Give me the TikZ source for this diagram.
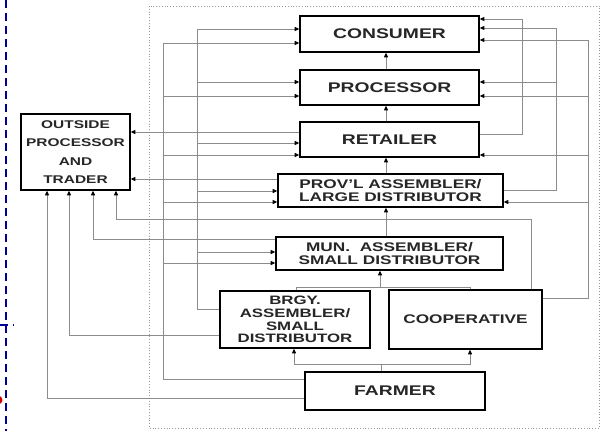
\documentclass[tikz,border=0pt]{standalone}
\usepackage{fontspec}
\setmainfont{Liberation Sans}[FakeStretch=1.38]
\usetikzlibrary{arrows.meta}
\begin{document}
\begin{tikzpicture}[x=1pt,y=-1pt,
  box/.style={draw=black,line width=1.6pt,align=center,inner sep=0pt,text=black!85,
    font=\bfseries\fontsize{14}{16}\selectfont},
  midtxt/.style={font=\bfseries\fontsize{12.5}{13}\selectfont},
  ln/.style={draw=black!45,line width=0.9pt},
  arr/.style={ln,-{Triangle[length=4.5pt,width=4pt,color=black]}},
  frame/.style={draw=black!40,line width=0.8pt,dotted},
  guide/.style={draw=blue!60!black,line width=1.6pt,dash pattern=on 8pt off 5pt}
]
\useasboundingbox (0,0) rectangle (602,431);
\fill[white] (0,0) rectangle (602,431);

% slide artefacts
\draw[guide] (6,0) -- (6,431);
\draw[guide] (0,325) -- (14,325);
\fill[red!80!black] (-2,400) circle (4.5);

% dotted frame
\draw[frame] (149,6) rectangle (599,428);

% boxes
\node[box,minimum width=179,minimum height=36] (cons) at (389.5,34) {CONSUMER};
\node[box,minimum width=179,minimum height=35] (proc) at (389.5,87.5) {PROCESSOR};
\node[box,minimum width=179,minimum height=35] (ret) at (389.5,139.5) {RETAILER};
\node[box,midtxt,minimum width=225,minimum height=33] (prov) at (390.5,190.5) {PROV'L ASSEMBLER/\\LARGE DISTRIBUTOR};
\node[box,midtxt,font=\bfseries\fontsize{12.5}{13.5}\selectfont,minimum width=227,minimum height=33] (mun) at (389.5,253.5) {MUN.~~ASSEMBLER/\\SMALL DISTRIBUTOR};
\node[box,font=\bfseries\fontsize{12.2}{12.8}\selectfont,minimum width=150,minimum height=57] (brgy) at (295,319.5) {BRGY.\\ASSEMBLER/\\SMALL\\DISTRIBUTOR};
\node[box,midtxt,minimum width=153,minimum height=59] (coop) at (465.5,319.5) {COOPERATIVE};
\node[box,minimum width=180,minimum height=38] (farm) at (395,391) {FARMER};
\node[box,font=\bfseries\fontsize{11.2}{18.3}\selectfont,minimum width=109,minimum height=76] (out) at (75.5,152) {OUTSIDE\\PROCESSOR\\AND\\TRADER};

% vertical chain in the middle
\draw[arr] (proc.north -| 386,0) -- (cons.south -| 386,0);
\draw[arr] (ret.north -| 386,0) -- (proc.south -| 386,0);
\draw[arr] (prov.north -| 386,0) -- (ret.south -| 386,0);
\draw[arr] (mun.north -| 386,0) -- (prov.south -| 386,0);

% BRGY and cooperative to MUN
\draw[ln] (brgy.north -| 296,0) |- (380,287);
\draw[ln] (coop.north -| 470,0) |- (380,287);
\draw[arr] (380,287) -- (mun.south -| 380,0);

% farmer to BRGY and cooperative
\draw[ln] (farm.north -| 381,0) -- (381,364);
\draw[arr] (381,364) -| (brgy.south -| 294,0);
\draw[arr] (381,364) -| (coop.south -| 470,0);

% left bus from BRGY (x=197)
\draw[arr] (brgy.west |- 0,309) -| (197,29) -- (cons.west |- 0,29);
\draw[arr] (197,82) -- (proc.west |- 0,82);
\draw[arr] (197,143) -- (ret.west |- 0,143);
\draw[arr] (197,191) -- (prov.west |- 0,191);
\draw[arr] (197,252) -- (mun.west |- 0,252);

% left bus from FARMER (x=163)
\draw[arr] (farm.west |- 0,379) -| (163,43) -- (cons.west |- 0,43);
\draw[arr] (163,96) -- (proc.west |- 0,96);
\draw[arr] (163,155) -- (ret.west |- 0,155);
\draw[arr] (163,202) -- (prov.west |- 0,202);
\draw[arr] (163,263) -- (mun.west |- 0,263);

% flows to OUTSIDE PROCESSOR AND TRADER
\draw[arr] (ret.west |- 0,132) -- (out.east |- 0,132);
\draw[arr] (prov.west |- 0,179) -- (out.east |- 0,179);
\draw[arr] (coop.north -| 531,0) |- (116,219) -- (out.south -| 116,0);
\draw[arr] (mun.west |- 0,239) -| (out.south -| 93,0);
\draw[arr] (brgy.west |- 0,335) -| (out.south -| 69,0);
\draw[arr] (farm.west |- 0,398) -| (out.south -| 47,0);

% right side
\draw[arr] (ret.east |- 0,134) -| (522,19) -- (cons.east |- 0,19);
\draw[arr] (prov.east |- 0,190) -| (556,28) -- (cons.east |- 0,28);
\draw[arr] (556,82) -- (proc.east |- 0,82);
\draw[arr] (coop.east |- 0,298) -| (588,40) -- (cons.east |- 0,40);
\draw[arr] (588,96) -- (proc.east |- 0,96);
\draw[arr] (588,155) -- (ret.east |- 0,155);
\draw[arr] (588,202) -- (prov.east |- 0,202);
\end{tikzpicture}
\end{document}
